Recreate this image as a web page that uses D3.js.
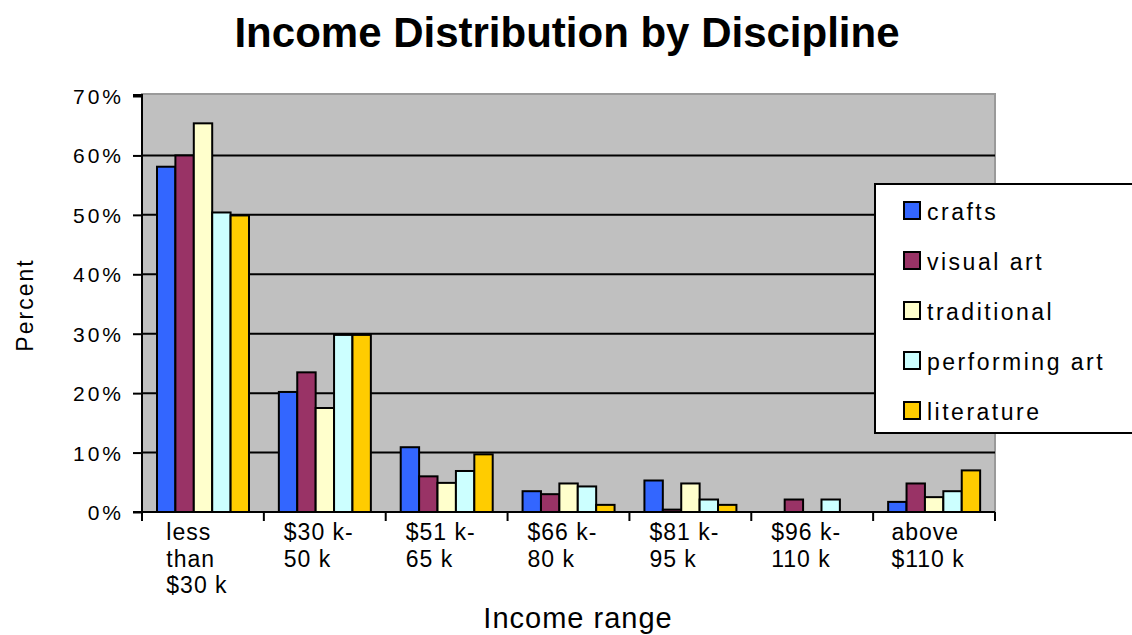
<!DOCTYPE html>
<html><head><meta charset="utf-8">
<script src="https://cdn.jsdelivr.net/npm/d3@7"></script>
<style>body{margin:0;background:#fff}svg{display:block}text{font-family:"Liberation Sans",Arial,sans-serif;fill:#000}</style>
</head><body><svg id="c" width="1132" height="635"></svg>
<script>
const categories = [["less","than","$30 k"],["$30 k-","50 k"],["$51 k-","65 k"],["$66 k-","80 k"],["$81 k-","95 k"],["$96 k-","110 k"],["above","$110 k"]];
const seriesNames = ["crafts","visual art","traditional","performing art","literature"];
const seriesColors = ["#3366FF","#993366","#FFFFCC","#CCFFFF","#FFCC00"];
const crafts       = [58.1, 20.2, 10.9, 3.5, 5.3, 0,   1.7];
const visualArt    = [60.0, 23.5, 6.0,  3.0, 0.4, 2.1, 4.8];
const traditional  = [65.4, 17.5, 4.9,  4.8, 4.8, 0,   2.5];
const performingArt= [50.4, 29.8, 6.9,  4.3, 2.1, 2.1, 3.5];
const literature   = [49.9, 29.8, 9.7,  1.2, 1.2, 0,   7.0];
const yTicks = [0,10,20,30,40,50,60,70];
const seriesValues = [crafts, visualArt, traditional, performingArt, literature];

const svg = d3.select("#c");
const L=142, R=995, T=96, B=512;
const x0 = d3.scaleBand().domain(d3.range(categories.length)).range([L,R]).padding(0);
const x1 = d3.scaleBand().domain(d3.range(seriesNames.length)).range([15, 107]);
const y = d3.scaleLinear().domain([0,70]).range([B,T]);

// plot background
svg.append("rect").attr("x",L).attr("y",T-2).attr("width",R-L).attr("height",B-T+2)
  .attr("fill","#C0C0C0").attr("stroke","#9a9a9a").attr("stroke-width",2);

// gridlines
svg.append("g").selectAll("line").data(yTicks.filter(d=>d>0&&d<70)).join("line")
  .attr("x1",L).attr("x2",R).attr("y1",d=>y(d)).attr("y2",d=>y(d))
  .attr("stroke","#000").attr("stroke-width",2);

// bars
const g = svg.append("g");
seriesValues.forEach((vals,si)=>{
  const data = vals.map((v,i)=>({v,i})).filter(d=>d.v>0);
  g.selectAll(".s"+si).data(data).join("rect")
    .attr("x",d=>x0(d.i)+x1(si)).attr("width",x1.bandwidth())
    .attr("y",d=>y(d.v)).attr("height",d=>B-y(d.v))
    .attr("fill",seriesColors[si]).attr("stroke","#000").attr("stroke-width",2);
});

// axes
const yAxis = d3.axisLeft(y).tickValues(yTicks).tickFormat(d=>d+"%").tickSize(9).tickPadding(9);
const ya = svg.append("g").attr("transform",`translate(${L},0)`).call(yAxis);
ya.select(".domain").attr("stroke","#000").attr("stroke-width",2).attr("d",`M-9,${T-1}H0V${B}H-9`);
ya.selectAll(".tick line").attr("stroke","#000").attr("stroke-width",2);
ya.selectAll("text").attr("font-size",21).attr("letter-spacing",3).attr("dy","0.36em")
  .style("font-family",'"Liberation Sans",Arial,sans-serif');

const xa = svg.append("g").attr("transform",`translate(0,${B})`);
xa.append("line").attr("x1",L-9).attr("x2",R).attr("stroke","#000").attr("stroke-width",2);
xa.selectAll(".xt").data(d3.range(categories.length+1)).join("line")
  .attr("x1",i=>i<categories.length?x0(i):R).attr("x2",i=>i<categories.length?x0(i):R)
  .attr("y1",0).attr("y2",9).attr("stroke","#000").attr("stroke-width",2);
xa.selectAll(".xl").data(categories).join("text")
  .attr("text-anchor","start").attr("font-size",23).attr("letter-spacing",1)
  .each(function(d,i){
    const t = d3.select(this);
    t.selectAll("tspan").data(d).join("tspan")
      .attr("x",0).attr("y",(s,j)=>28+j*26.5).text(s=>s);
    const w = this.getBBox().width;
    t.attr("transform",`translate(${x0(i)+x0.bandwidth()/2-w/2-6},0)`);
  });

// titles
svg.append("text").attr("x",567).attr("y",47).attr("text-anchor","middle")
  .attr("font-size",42).attr("font-weight","bold").text("Income Distribution by Discipline");
svg.append("text").attr("transform","translate(33,305) rotate(-90)").attr("text-anchor","middle")
  .attr("font-size",23).attr("letter-spacing",2).text("Percent");
svg.append("text").attr("x",578).attr("y",628).attr("text-anchor","middle")
  .attr("font-size",29).attr("letter-spacing",1).text("Income range");

// legend
const lg = svg.append("g");
lg.append("rect").attr("x",875).attr("y",184).attr("width",270).attr("height",249)
  .attr("fill","#fff").attr("stroke","#000").attr("stroke-width",2);
const items = lg.selectAll(".li").data(seriesNames).join("g")
  .attr("transform",(d,i)=>`translate(904,${211+i*50})`);
items.append("rect").attr("x",0).attr("y",-9).attr("width",16).attr("height",17)
  .attr("fill",(d,i)=>seriesColors[i]).attr("stroke","#000").attr("stroke-width",2);
items.append("text").attr("x",23).attr("y",9).attr("font-size",23).attr("letter-spacing",2.5).text(d=>d);
</script></body></html>
